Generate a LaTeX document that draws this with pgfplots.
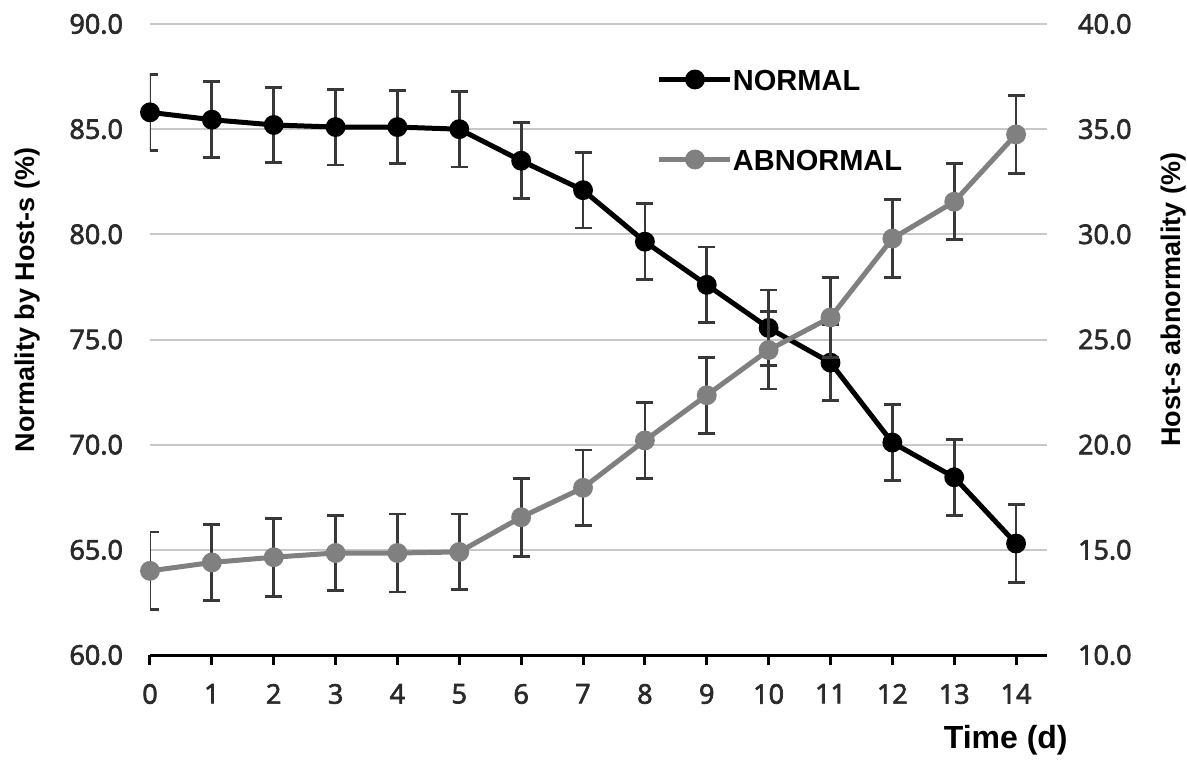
\documentclass[border=0pt]{standalone}
\usepackage{pgfplots}
\pgfplotsset{compat=1.18}
\usepackage{pgfplotstable}
\usepackage{fontspec}
\setmainfont{Open Sans}
\newfontfamily\tickfont{Open Sans}
\newfontfamily\labfont{Liberation Sans}
\newcommand\heavy{\special{pdf:code 2 Tr 0.35 w}}
\definecolor{ab}{HTML}{808080}
\definecolor{eb}{HTML}{383838}
\definecolor{gridc}{HTML}{C8C8C8}
\definecolor{tickc}{HTML}{2A2A2A}

\pgfplotstableread{
x  n     ne   a     ae
0  85.8  1.8  14.0  1.85
1  85.45 1.8  14.4  1.8
2  85.2  1.8  14.65 1.85
3  85.1  1.8  14.85 1.8
4  85.1  1.75 14.85 1.85
5  85.0  1.8  14.9  1.8
6  83.5  1.8  16.55 1.85
7  82.1  1.8  17.95 1.8
8  79.65 1.8  20.2  1.8
9  77.6  1.8  22.35 1.8
10 75.55 1.8  24.5  1.85
11 73.9  1.8  26.05 1.9
12 70.1  1.8  29.8  1.85
13 68.45 1.8  31.55 1.8
14 65.3  1.85 34.75 1.85
}\data

\begin{document}
\begin{tikzpicture}
\path[use as bounding box] (-75pt,-56.5pt) rectangle (518.5pt,327.5pt);
\pgfplotsset{
  common/.style={
    scale only axis, width=448.5pt, height=315.5pt,
    xmin=0, xmax=14.5,
    /pgf/number format/assume math mode=true,
    tick label style={font=\tickfont\fontsize{13.5}{16}\selectfont\heavy, text=tickc},
    yticklabel style={/pgf/number format/fixed, /pgf/number format/fixed zerofill, /pgf/number format/precision=1},
    y axis line style={draw=none},
    ytick style={draw=none},
  },
  ebars/.style={/pgfplots/error bars/y dir=both, /pgfplots/error bars/y explicit,
    /pgfplots/error bars/error bar style={line width=1.4pt, color=eb},
    /pgfplots/error bars/error mark options={rotate=90, mark size=4.25pt, line width=1.4pt, color=eb}},
}
\begin{axis}[common,
  ymin=60, ymax=90, ytick={60,65,...,90},
  axis x line*=bottom, axis y line*=left,
  x axis line style={line width=1.5pt, black, -},
  xtick={0,...,14}, xtick align=outside, major tick length=5pt,
  xtick style={line width=1.5pt, black},
  xticklabel style={yshift=-6pt},
  yticklabel style={xshift=-10pt},
  ymajorgrids, grid style={gridc, line width=1pt},
  xlabel={Time (d)},
  every axis x label/.style={at={(rel axis cs:0.954,-0.135)}, anchor=center,
    font=\labfont\bfseries\fontsize{16}{19}\selectfont},
  ylabel={Normality by Host-s (\%)},
  every axis y label/.style={at={(rel axis cs:-0.136,0.563)}, anchor=center, rotate=90,
    font=\labfont\bfseries\fontsize{13.5}{16}\selectfont},
]
\addplot[black, line width=2.5pt, mark=*, mark size=3.7pt, ebars]
  table[x=x, y=n, y error=ne] {\data};
\end{axis}
\begin{axis}[common,
  ymin=10, ymax=40, ytick={10,15,...,40},
  axis x line=none, axis y line*=right,
  yticklabel style={xshift=12pt},
  ylabel={Host-s abnormality (\%)},
  every axis y label/.style={at={(rel axis cs:1.141,0.563)}, anchor=center, rotate=90,
    font=\labfont\bfseries\fontsize{13.5}{16}\selectfont},
  legend cell align=left,
  legend style={at={(rel axis cs:0.5652,0.9295)}, anchor=north west, draw=none, fill=none,
    inner sep=0pt, outer sep=0pt, row sep=29pt,
    font=\labfont\bfseries\fontsize{14.5}{17}\selectfont,
    nodes={inner sep=0pt, text height=11pt, text depth=0pt},
    /tikz/every even column/.append style={column sep=7.5pt}},
  legend image code/.code={\draw[mark repeat=2, mark phase=2, #1] plot coordinates {(0pt,0pt) (17.75pt,0pt) (35.5pt,0pt)};},
]
\addlegendimage{black, line width=2.5pt, mark=*, mark size=3.7pt}
\addlegendentry{NORMAL}
\addlegendimage{ab, line width=2.5pt, mark=*, mark size=3.7pt}
\addlegendentry{ABNORMAL}
\addplot[forget plot, ab, line width=2.5pt, mark=*, mark size=3.7pt, ebars]
  table[x=x, y=a, y error=ae] {\data};
\end{axis}
\end{tikzpicture}
\end{document}
